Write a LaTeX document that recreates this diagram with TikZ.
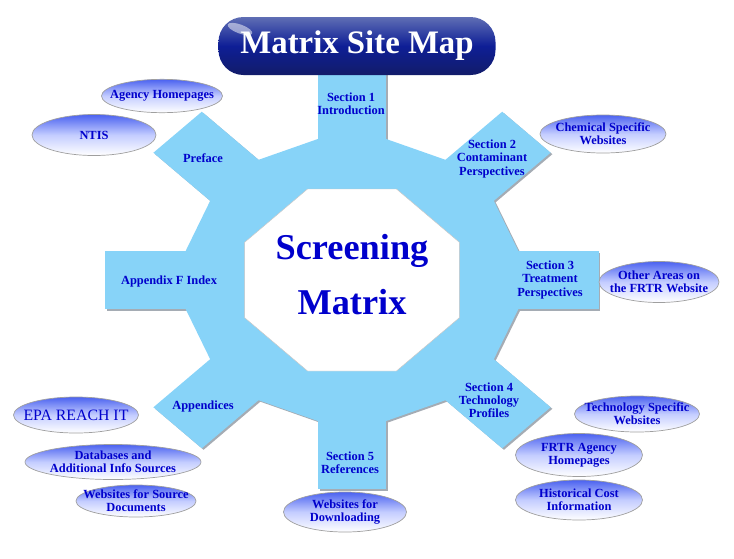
\documentclass[tikz,border=0pt]{standalone}
\usepackage{fontspec}
\setmainfont{Liberation Serif}
\usetikzlibrary{shapes,positioning}
\definecolor{gearblue}{RGB}{135,211,248}
\definecolor{gearshadow}{RGB}{165,172,180}
\definecolor{labelblue}{RGB}{0,0,204}
\definecolor{siteblue}{RGB}{75,98,240}
\definecolor{sitepale}{RGB}{196,205,255}
\tikzset{gearlabel/.style={text=labelblue, align=center, inner sep=1pt,
    font=\fontsize{10.6}{11.2}\selectfont\bfseries},
  site/.style={ellipse, draw=gray!75, line width=0.6pt, inner sep=0pt,
    top color=siteblue, bottom color=white, middle color=sitepale,
    minimum width=3.72cm, minimum height=1.15cm},
  sitetext/.style={gearlabel},
  titlebox/.style={rounded corners=0.75cm, minimum width=8.31cm, minimum height=1.74cm,
    top color={rgb,255:red,95;green,110;blue,180}, bottom color={rgb,255:red,18;green,28;blue,105},
    middle color={rgb,255:red,14;green,30;blue,150},
    text=white, font=\fontsize{28}{30}\selectfont\bfseries}
}

\begin{document}
\begin{tikzpicture}[x=0.03cm, y=-0.03cm]
            \useasboundingbox (0,0) rectangle (734,558);
            % the gear
            \begin{scope}[shift={(352,280)}, xscale=1.18]
            \foreach \col/\off in {gearshadow/1.5, gearblue/0} {
                \fill[\col, shift={(\off,\off)}] (0:153) -- (45:153) -- (90:153) -- (135:153)
                    -- (180:153) -- (225:153) -- (270:153) -- (315:153) -- cycle;
                \foreach \a in {0,45,...,315}
                    \fill[\col, shift={(\off,\off)}, rotate=\a]
                        (-29,0) -- (29,0) -- (29,-209) -- (-29,-209) -- cycle;
            }
            \filldraw[fill=white, draw=gray!45, line width=0.4pt] (22.5:98.5) -- (67.5:98.5) -- (112.5:98.5)
                -- (157.5:98.5) -- (202.5:98.5) -- (247.5:98.5) -- (292.5:98.5) -- (337.5:98.5) -- cycle;
            \end{scope}
            \node[text=labelblue, align=center, font=\fontsize{31}{47}\selectfont\bfseries]
                (matrix) at (352,275) {Screening\\Matrix};
            % teeth
            \node[gearlabel] (sec1) at (351,104) {Section 1\\Introduction};
            \node[gearlabel] (sec2) at (492,159) {Section 2\\Contaminant\\Perspectives};
            \node[gearlabel] (sec3) at (550,280) {Section 3\\Treatment\\Perspectives};
            \node[gearlabel] (sec4) at (489,400) {Section 4\\Technology\\Profiles};
            \node[gearlabel] (sec5) at (350,463) {Section 5\\References};
            \node[gearlabel] (appx) at (203,407) {Appendices};
            \node[gearlabel] (appf) at (169,282) {Appendix F Index};
            \node[gearlabel] (pref) at (203,158) {Preface};
            % title
            \node[titlebox] (title) at (357,46) {Matrix Site Map};
            \fill[white, opacity=0.5, rotate around={-20:(240,29)}] (240,29) ellipse (13 and 4.5);
            % linked sites
            \node[site, minimum width=3.63cm, minimum height=1cm,
                label={[sitetext]center:Agency Homepages}] (agency) at (162,96) {};
            \node[site, minimum height=1.23cm,
                label={[sitetext]center:NTIS}] (ntis) at (94,135) {};
            \node[site, minimum width=3.78cm, minimum height=1.14cm,
                label={[sitetext]center:{Chemical Specific\\Websites}}] (chem) at (603,134) {};
            \node[site, minimum width=3.6cm, minimum height=1.23cm,
                label={[sitetext]center:{Other Areas on\\the FRTR Website}}] (other) at (659,282) {};
            \node[site, minimum width=3.75cm, minimum height=1.08cm,
                label={[sitetext]center:{Technology Specific\\Websites}}] (techsite) at (637,414) {};
            \node[site, minimum width=3.81cm, minimum height=1.29cm,
                label={[sitetext]center:{FRTR Agency\\Homepages}}] (frtr) at (579,455) {};
            \node[site, minimum width=3.81cm, minimum height=1.2cm,
                label={[sitetext]center:{Historical Cost\\Information}}] (cost) at (579,500) {};
            \node[site, minimum width=3.69cm, minimum height=1.2cm,
                label={[sitetext]center:{Websites for\\Downloading}}] (download) at (345,512) {};
            \node[site, minimum width=3.75cm, minimum height=1.08cm,
                label={[sitetext, font=\fontsize{13.5}{15}\selectfont]center:EPA REACH IT}] (epa) at (76,415) {};
            \node[site, minimum width=5.28cm, minimum height=1.05cm,
                label={[sitetext]center:{Databases and\\Additional Info Sources}}] (databases) at (113,462) {};
            \node[site, minimum width=3.6cm, minimum height=0.96cm,
                label={[sitetext]center:{Websites for Source\\Documents}}] (sourcedocs) at (136,501) {};
\end{tikzpicture}
\end{document}
